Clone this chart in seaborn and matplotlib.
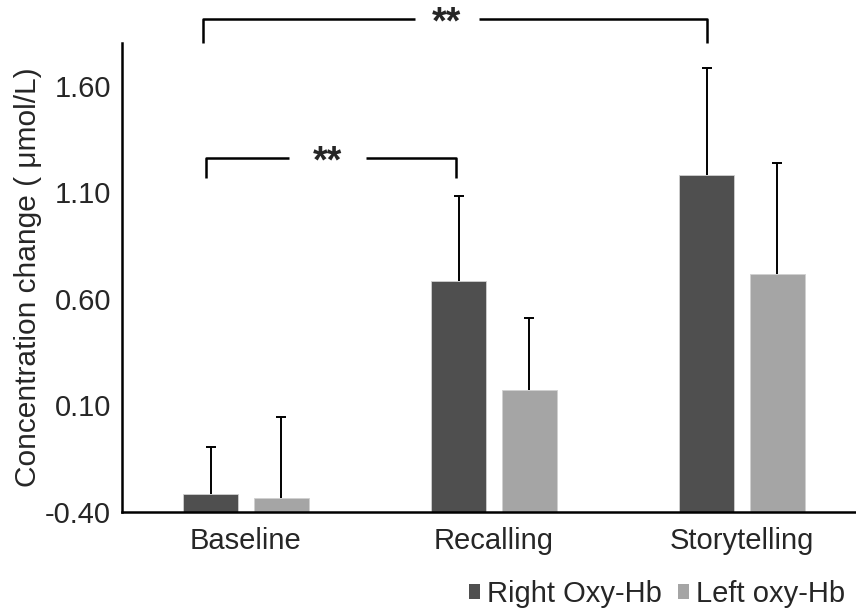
import numpy as np
import pandas as pd
import matplotlib
matplotlib.use("Agg")
import matplotlib.pyplot as plt
from matplotlib.patches import Patch
import seaborn as sns

conditions = ["Baseline", "Recalling", "Storytelling"]
series = ["Right Oxy-Hb", "Left oxy-Hb"]
right_vals = [-0.314, 0.684, 1.183]
left_vals = [-0.333, 0.170, 0.717]
right_err = [0.22, 0.40, 0.50]
left_err = [0.38, 0.34, 0.52]
yticks = [-0.40, 0.10, 0.60, 1.10, 1.60]
colors = ["#4f4f4f", "#a5a5a5"]

sns.set_style("white")
plt.rcParams["font.family"] = ["Liberation Sans", "DejaVu Sans"]

df = pd.DataFrame({
    "condition": conditions * 2,
    "series": [series[0]] * 3 + [series[1]] * 3,
    "value": right_vals + left_vals,
    "err": right_err + left_err,
})

fig = plt.figure(figsize=(8.56, 6.12), dpi=100)
ax = fig.add_axes([122 / 856, 1 - 512 / 612, 744 / 856, 469 / 612])

base = yticks[0]
df["height"] = df["value"] - base
sns.barplot(data=df, x="condition", y="height", hue="series", order=conditions,
            hue_order=series, palette=colors, width=0.57, gap=0.22,
            errorbar=None, ax=ax, bottom=base, legend=False, saturation=1,
            edgecolor="#d0d0d0", linewidth=0.6)

centers = {}
bars = [p for p in ax.patches][:6]
for i, p in enumerate(bars):
    s = series[i // 3]
    c = conditions[i % 3]
    row = df[(df.series == s) & (df.condition == c)].iloc[0]
    xc = p.get_x() + p.get_width() / 2
    centers[(s, c)] = xc
    _, caps, _ = ax.errorbar(xc, row["value"], yerr=[[0], [row["err"]]], fmt="none",
                             ecolor="black", elinewidth=1.4, capsize=3.5, capthick=1.4)
    caps[0].set_visible(False)

ax.set_ylim(base, 1.80)
ax.set_xlim(-0.5, 2.5)
ax.set_yticks(yticks)
ax.set_yticklabels([f"{v:.2f}" for v in yticks])
ax.set_xlabel("")
ax.set_ylabel("Concentration change ( μmol/L)", fontsize=21.5)
ax.yaxis.set_label_coords(-0.107, 0.5)
ax.tick_params(axis="both", labelsize=21, length=0)
ax.tick_params(axis="x", pad=11)
ax.tick_params(axis="y", pad=8)
for sp in ["top", "right"]:
    ax.spines[sp].set_visible(False)
for sp in ["left", "bottom"]:
    ax.spines[sp].set_color("black")
    ax.spines[sp].set_linewidth(1.8)

def bracket(x1, x2, y_top, y_bot, xstar, gap_half):
    kw = dict(color="black", lw=1.8, clip_on=False, solid_capstyle="butt",
              solid_joinstyle="round")
    ax.plot([x1, x1, xstar - gap_half], [y_bot, y_top, y_top], **kw)
    ax.plot([xstar + gap_half, x2, x2], [y_top, y_top, y_bot], **kw)
    ax.text(xstar, y_top, "**", ha="center", va="center_baseline", fontsize=27,
            fontweight="bold", clip_on=False)

xb = centers[(series[0], "Baseline")] - 0.03
xr = centers[(series[0], "Recalling")] - 0.01
xs = centers[(series[0], "Storytelling")]
bracket(xb, xs, 1.911, 1.80, 0.81, 0.13)
bracket(xb + 0.01, xr, 1.26, 1.166, 0.327, 0.155)

handles = [Patch(facecolor=c, edgecolor="none") for c in colors]
ax.legend(handles, series, loc="center right", bbox_to_anchor=(845 / 856, 1 - 594 / 612),
          bbox_transform=fig.transFigure, ncol=2, frameon=False, fontsize=21,
          handlelength=0.38, handleheight=0.38, handletextpad=0.24, columnspacing=0.55,
          borderaxespad=0, borderpad=0)

fig.savefig("out.png", dpi=100)
